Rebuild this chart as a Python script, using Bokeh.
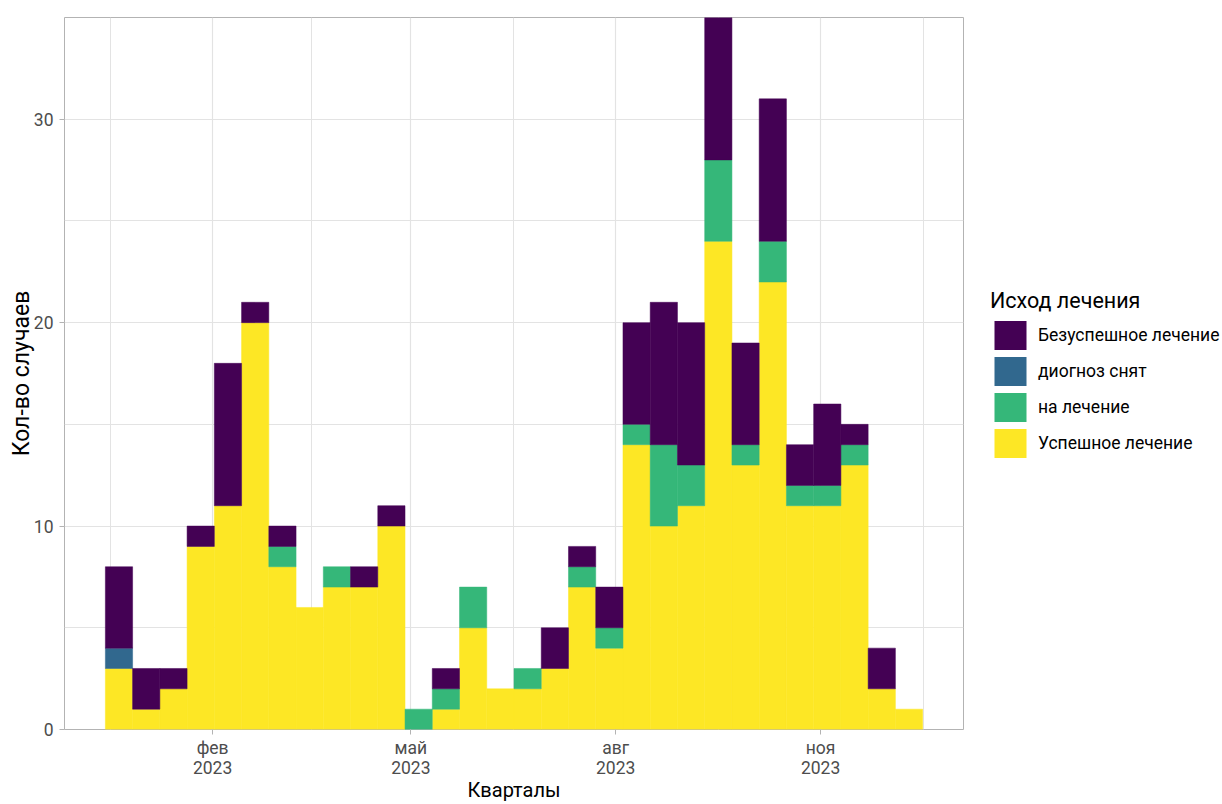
from datetime import datetime
from bokeh.plotting import figure
from bokeh.layouts import row
from bokeh.models import Range1d, FixedTicker, Legend, LegendItem
from bokeh.embed import file_html
from bokeh.resources import INLINE

# ---------------- data ----------------
outcomes = ["Безуспешное лечение", "диогноз снят", "на лечение", "Успешное лечение"]
colors = ["#440154", "#31688E", "#35B779", "#FDE725"]

# histogram bins (30 bins, regular width)
bin_start = "2022-12-14 20:00"
bin_days = 12.233
n_bins = 30

uspeshnoe     = [3, 1, 2, 9, 11, 20, 8, 6, 7, 7, 10, 0, 1, 5, 2, 2, 3, 7, 4, 14, 10, 11, 24, 13, 22, 11, 11, 13, 2, 1]
na_lechenie   = [0, 0, 0, 0, 0, 0, 1, 0, 1, 0, 0, 1, 1, 2, 0, 1, 0, 1, 1, 1, 4, 2, 4, 1, 2, 1, 1, 1, 0, 0]
diagnoz_snyat = [1, 0, 0, 0, 0, 0, 0, 0, 0, 0, 0, 0, 0, 0, 0, 0, 0, 0, 0, 0, 0, 0, 0, 0, 0, 0, 0, 0, 0, 0]
bezuspeshnoe  = [4, 2, 1, 1, 7, 1, 1, 0, 0, 1, 1, 0, 1, 0, 0, 0, 2, 1, 2, 5, 7, 7, 7, 5, 7, 2, 4, 1, 2, 0]

tick_dates = ["2023-02-01", "2023-05-01", "2023-08-01", "2023-11-01"]
tick_labels = ["фев\n2023", "май\n2023", "авг\n2023", "ноя\n2023"]
outer_dates = ["2022-11-01", "2024-02-01"]  # neighbours for minor grid midpoints

y_ticks = [0, 10, 20, 30]
y_minor = [5, 15, 25, 35]

x_title = "Кварталы"
y_title = "Кол-во случаев"
legend_title = "Исход лечения"

FONT = "Roboto"

# ---------------- helpers ----------------
EPOCH = datetime(1970, 1, 1)


def to_days(s):
    fmt = "%Y-%m-%d %H:%M" if " " in s else "%Y-%m-%d"
    return (datetime.strptime(s, fmt) - EPOCH).total_seconds() / 86400.0


start = to_days(bin_start)
lefts = [start + i * bin_days for i in range(n_bins)]
rights = [l + bin_days for l in lefts]

majors = [to_days(d) for d in tick_dates]
ext = [to_days(outer_dates[0])] + majors + [to_days(outer_dates[1])]
minors = [(ext[i] + ext[i + 1]) / 2 for i in range(len(ext) - 1)]

span = rights[-1] - lefts[0]
x_lo = lefts[0] - 0.05 * span
x_hi = rights[-1] + 0.05 * span

# ---------------- main figure ----------------
p = figure(width=965, height=804, output_backend="svg", toolbar_location=None,
           x_range=Range1d(x_lo, x_hi), y_range=Range1d(0, 35),
           min_border_left=64, min_border_right=2, min_border_top=17, min_border_bottom=75)

p.outline_line_color = "#b3b3b3"
p.outline_line_width = 1
p.background_fill_color = "white"

# stacked bars: bottom -> top (only non-empty segments)
stack_order = [("Успешное лечение", uspeshnoe), ("на лечение", na_lechenie),
               ("диогноз снят", diagnoz_snyat), ("Безуспешное лечение", bezuspeshnoe)]
base = [0] * n_bins
for name, vals in stack_order:
    tops = [b + v for b, v in zip(base, vals)]
    idx = [i for i, v in enumerate(vals) if v > 0]
    col = colors[outcomes.index(name)]
    p.quad(left=[lefts[i] for i in idx], right=[rights[i] for i in idx],
           bottom=[base[i] for i in idx], top=[tops[i] for i in idx],
           fill_color=col, line_color=col, line_width=0.5)
    base = tops

# axes
p.xaxis.ticker = FixedTicker(ticks=majors, minor_ticks=minors)
p.xaxis.major_label_overrides = {m: lab for m, lab in zip(majors, tick_labels)}
p.yaxis.ticker = FixedTicker(ticks=y_ticks, minor_ticks=y_minor)

for ax in (p.xaxis[0], p.yaxis[0]):
    ax.axis_line_color = None
    ax.major_tick_line_color = "#b3b3b3"
    ax.major_tick_out = 5
    ax.major_tick_in = 0
    ax.minor_tick_line_color = None
    ax.major_label_text_font = FONT
    ax.major_label_text_font_size = "17.5px"
    ax.major_label_text_color = "#4d4d4d"
    ax.axis_label_text_font = FONT
    ax.axis_label_text_font_style = "normal"
    ax.axis_label_text_color = "black"

p.xaxis.axis_label = x_title
p.yaxis.axis_label = y_title
p.xaxis.axis_label_text_font_size = "20px"
p.xaxis.axis_label_text_line_height = 0.9
p.yaxis.axis_label_text_font_size = "23px"
p.xaxis.major_label_text_line_height = 1.0
p.xaxis.major_label_standoff = 3
p.xaxis.axis_label_standoff = -3
p.yaxis.major_label_standoff = 6
p.yaxis.axis_label_standoff = -4

# grids
for g in (p.xgrid[0], p.ygrid[0]):
    g.grid_line_color = "#e3e3e3"
    g.grid_line_width = 1.2
    g.minor_grid_line_color = "#e3e3e3"
    g.minor_grid_line_width = 1

# ---------------- legend figure ----------------
lf = figure(width=255, height=804, output_backend="svg", toolbar_location=None,
            x_axis_location=None, y_axis_location=None, min_border=0,
            outline_line_color=None)
lf.xgrid.visible = False
lf.ygrid.visible = False

nan = float("nan")
items = []
for name in outcomes:
    col = colors[outcomes.index(name)]
    # placeholder renderer (no visible mark) that only carries the legend swatch style
    r = lf.quad(left=[nan], right=[nan], bottom=[nan], top=[nan], fill_color=col, line_color=None)
    items.append(LegendItem(label=name, renderers=[r]))

legend = Legend(items=items, location=(25, 268), title=legend_title,
                title_text_font=FONT, title_text_font_size="21.5px", title_text_font_style="normal",
                title_text_color="black", title_standoff=4,
                label_text_font=FONT, label_text_font_size="17.5px", label_text_color="black",
                glyph_width=40, glyph_height=36, spacing=0, label_standoff=8,
                padding=0, margin=0, border_line_color=None, background_fill_alpha=0)
lf.add_layout(legend, "center")

root = row(p, lf)
open("out.html", "w").write(file_html(root, INLINE))
